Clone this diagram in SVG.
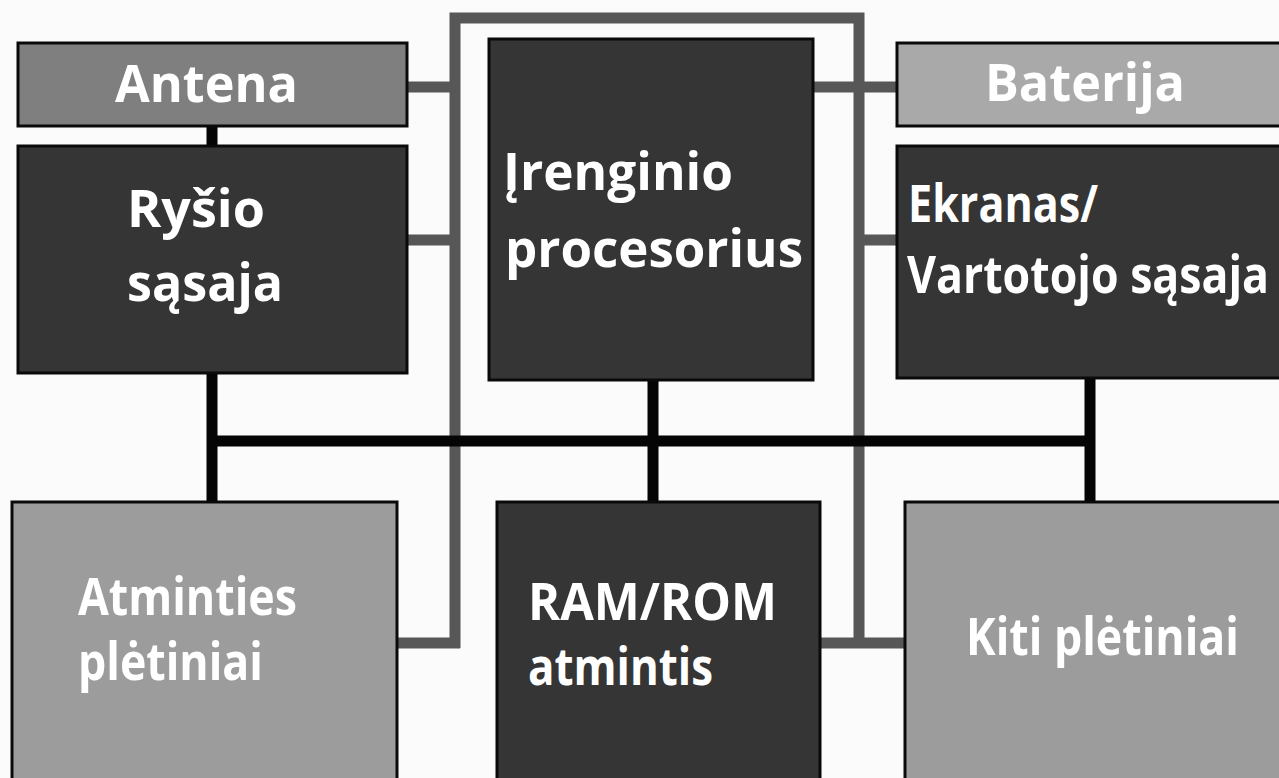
<svg xmlns="http://www.w3.org/2000/svg" width="1279" height="778" viewBox="0 0 1279 778">
  <style>
    .box { stroke: #0a0a0a; stroke-width: 3; }
    .edge { stroke: #0a0a0a; stroke-width: 3; fill: none; }
    .dark { fill: #353535; }
    .mid { fill: #7f7f7f; }
    .light { fill: #a9a9a9; }
    .ext { fill: #9c9c9c; }
    .label { font-family: "Open Sans", "Noto Sans", "DejaVu Sans", sans-serif; font-weight: 700; font-size: 52px; fill: #ffffff; }
    .bus { stroke: #050505; stroke-width: 11; fill: none; }
    .power { stroke: #575757; stroke-width: 11; fill: none; }
  </style>
  <rect x="0" y="0" width="1279" height="778" fill="#fbfbfb"/>

  <g id="connectors">
    <!-- grey supply lines -->
    <path class="power" d="M455 648 V18 H859 V648"/>
    <path class="power" d="M397 643 H460"/>
    <path class="power" d="M820 643 H905"/>
    <path class="power" d="M407 87 H455"/>
    <path class="power" d="M407 240 H455"/>
    <path class="power" d="M813 87 H897"/>
    <path class="power" d="M859 240 H897"/>
    <!-- black data bus -->
    <path class="bus" d="M212 441 H1090"/>
    <path class="bus" d="M212 126 V146"/>
    <path class="bus" d="M212 373 V502"/>
    <path class="bus" d="M653 380 V502"/>
    <path class="bus" d="M1090 378 V502"/>
  </g>

  <g id="antena">
    <rect class="box mid" x="18" y="43" width="389" height="83"/>
    <text class="label" x="115" y="102" textLength="183" lengthAdjust="spacingAndGlyphs">Antena</text>
  </g>

  <g id="rysio-sasaja">
    <rect class="box dark" x="18" y="146" width="389" height="227"/>
    <text class="label" x="127" y="227" textLength="138" lengthAdjust="spacingAndGlyphs">Ryšio</text>
    <text class="label" x="127" y="301" textLength="156" lengthAdjust="spacingAndGlyphs">sąsaja</text>
  </g>

  <g id="procesorius">
    <rect class="box dark" x="489" y="39" width="324" height="341"/>
    <text class="label" x="503" y="190" textLength="230" lengthAdjust="spacingAndGlyphs">Įrenginio</text>
    <text class="label" x="505" y="267" textLength="298" lengthAdjust="spacingAndGlyphs">procesorius</text>
  </g>

  <!-- boxes on the right run past the page edge: fill to the edge, border on the visible sides -->
  <g id="baterija">
    <rect class="light" x="897" y="43" width="382" height="83"/>
    <path class="edge" d="M1279 43 H897 V126 H1279"/>
    <text class="label" x="985" y="101" textLength="200" lengthAdjust="spacingAndGlyphs">Baterija</text>
  </g>

  <g id="ekranas">
    <rect class="dark" x="897" y="146" width="382" height="232"/>
    <path class="edge" d="M1279 146 H897 V378 H1279"/>
    <text class="label" x="908" y="222" textLength="190" lengthAdjust="spacingAndGlyphs">Ekranas/</text>
    <!-- narrowed horizontally so the long line fits before the edge -->
    <text class="label" transform="translate(907 293) scale(0.862 1)" x="0" y="0" textLength="420" lengthAdjust="spacingAndGlyphs">Vartotojo sąsaja</text>
  </g>

  <!-- bottom row runs past the lower edge -->
  <g id="atminties-pletiniai">
    <rect class="ext" x="12" y="502" width="385" height="276"/>
    <path class="edge" d="M12 778 V502 H397 V778"/>
    <text class="label" x="78" y="615" textLength="219" lengthAdjust="spacingAndGlyphs">Atminties</text>
    <text class="label" x="78" y="680" textLength="185" lengthAdjust="spacingAndGlyphs">plėtiniai</text>
  </g>

  <g id="ram-rom">
    <rect class="dark" x="497" y="502" width="323" height="276"/>
    <path class="edge" d="M497 778 V502 H820 V778"/>
    <text class="label" x="528" y="620" textLength="249" lengthAdjust="spacingAndGlyphs">RAM/ROM</text>
    <text class="label" x="528" y="685" textLength="185" lengthAdjust="spacingAndGlyphs">atmintis</text>
  </g>

  <g id="kiti-pletiniai">
    <rect class="ext" x="905" y="502" width="374" height="276"/>
    <path class="edge" d="M905 778 V502 H1279"/>
    <text class="label" transform="translate(966 655) scale(0.889 1)" x="0" y="0" textLength="307" lengthAdjust="spacingAndGlyphs">Kiti plėtiniai</text>
  </g>
</svg>
